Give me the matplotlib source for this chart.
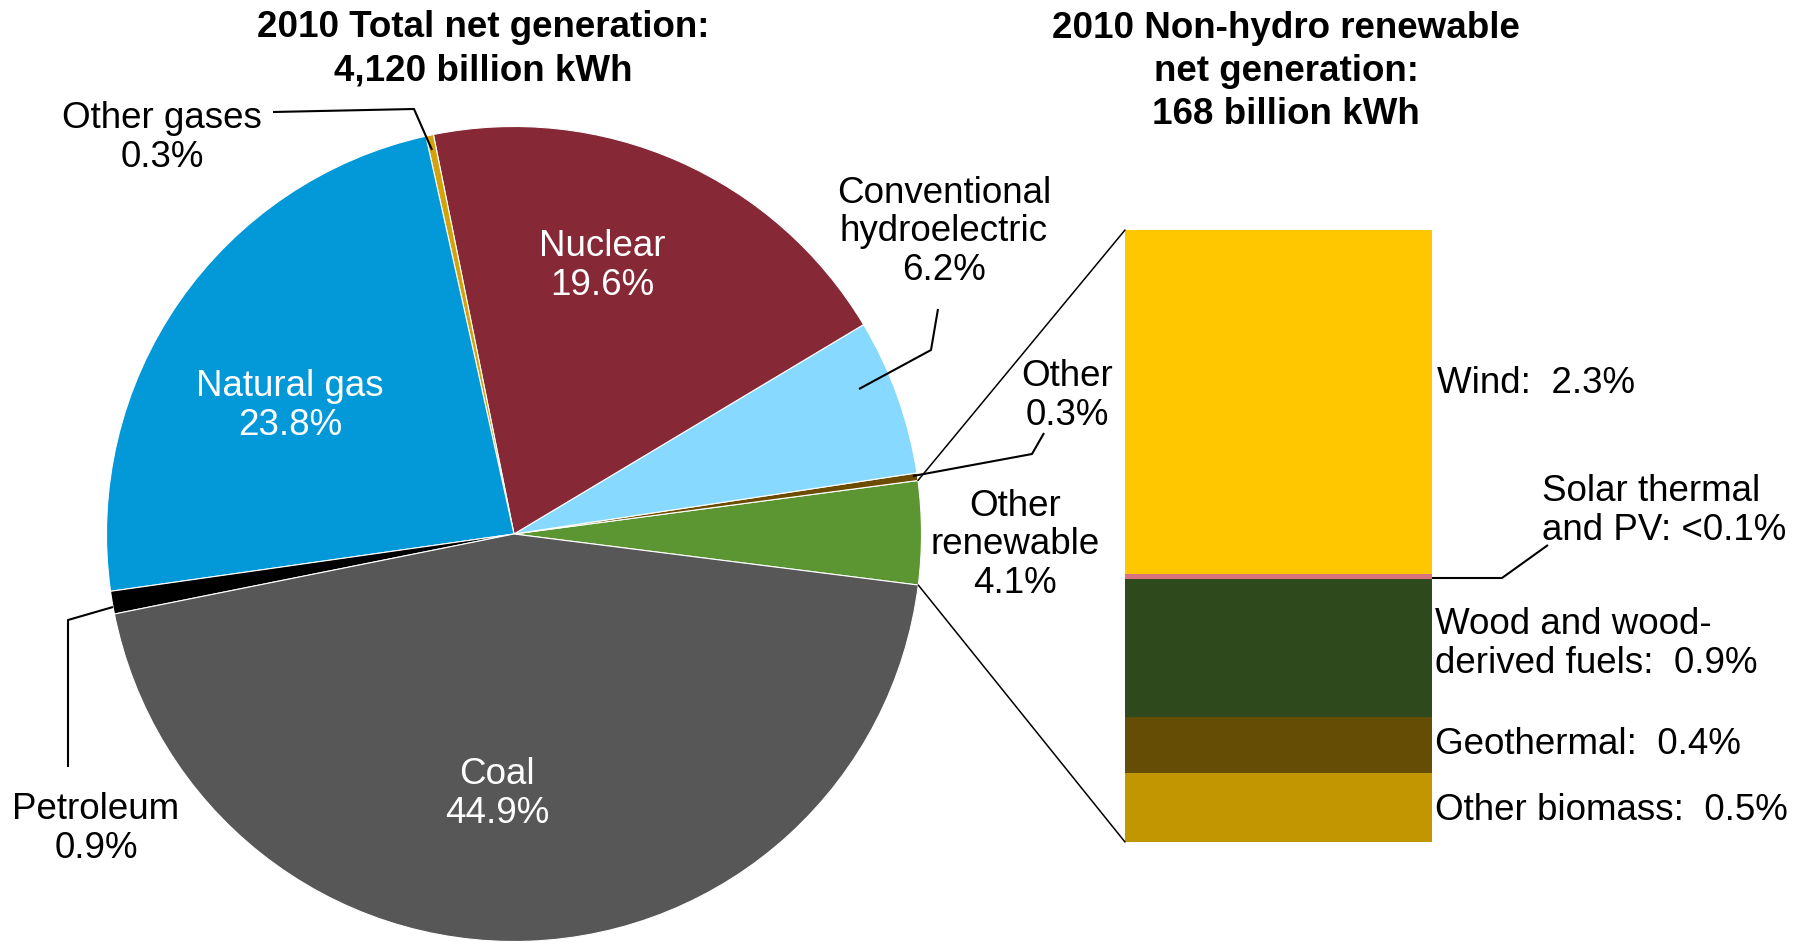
import matplotlib.pyplot as plt
from matplotlib.patches import ConnectionPatch
import numpy as np

plt.rcParams['font.family'] = ['Liberation Sans', 'DejaVu Sans']

# Total net generation 2010, percent (pie, counter-clockwise from the right)
pie_labels = ['Other renewable', 'Other', 'Conventional hydroelectric', 'Nuclear',
              'Other gases', 'Natural gas', 'Petroleum', 'Coal']
pie_shares = [4.1, 0.3, 6.2, 19.6, 0.3, 23.8, 0.9, 44.9]
pie_colors = ['#5B9632', '#6B4C00', '#87D9FF', '#862835',
              '#D4A20A', '#0398D8', '#000000', '#575757']

# Non-hydro renewable breakdown, percent of total (top to bottom)
bar_labels = ['Wind', 'Solar thermal and PV', 'Wood and wood-derived fuels',
              'Geothermal', 'Other biomass']
bar_shares = [2.3, 0.033, 0.925, 0.375, 0.462]
bar_colors = ['#FFC700', '#D9737F', '#2E4A1C', '#664D06', '#C29600']

W, H = 1805, 944
fig = plt.figure(figsize=(W / 100, H / 100), dpi=100)
ax = fig.add_axes([0, 0, 1, 1])

cx, cy, r = 514, H - 534, 407.5
wedges, _ = ax.pie(pie_shares, colors=pie_colors, startangle=-7.2,
                   center=(cx, cy), radius=r,
                   wedgeprops=dict(linewidth=0.8, edgecolor='white'))
ax.set_xlim(0, W)
ax.set_ylim(0, H)
ax.set_aspect('auto')
ax.axis('off')

fs = 26.5


# y is the baseline of the LAST line, in picture pixels from the top
def txt(x, y, s, **kw):
    kw.setdefault('ha', 'center')
    kw.setdefault('va', 'baseline')
    kw.setdefault('fontsize', fs)
    kw.setdefault('linespacing', 1.13)
    ax.text(x, H - y, s, **kw)


def leader(pts):
    xs = [p[0] for p in pts]
    ys = [H - p[1] for p in pts]
    ax.plot(xs, ys, color='black', lw=1.5, solid_capstyle='butt')


# titles
txt(483, 80, '2010 Total net generation:\n4,120 billion kWh', fontweight='bold', linespacing=1.3)
txt(1286, 124, '2010 Non-hydro renewable\nnet generation:\n168 billion kWh', fontweight='bold', linespacing=1.3)

# labels inside the pie
txt(602, 295, 'Nuclear\n19.6%', color='white')
txt(290, 435, 'Natural gas\n23.8%', color='white')
txt(497, 823, 'Coal\n44.9%', color='white')

# labels outside the pie
txt(162, 167, 'Other gases\n0.3%')
leader([(273, 112), (414, 109), (432, 150)])
txt(944, 280, 'Conventional\nhydroelectric\n6.2%')
leader([(938, 309), (931, 350), (859, 389)])
txt(1067, 425, 'Other\n0.3%')
leader([(1044, 433), (1032, 454), (913, 476)])
txt(1015, 593, 'Other\nrenewable\n4.1%')
txt(96, 858, 'Petroleum\n0.9%')
leader([(113, 607), (68, 620), (68, 767)])

# stacked bar for non-hydro renewables
bax = fig.add_axes([1125 / W, (H - 842) / H, 307 / W, 612 / H])
total = sum(bar_shares)
bottom = 0
for val, col in zip(bar_shares[::-1], bar_colors[::-1]):
    bax.bar(0, val, width=1, bottom=bottom, color=col, linewidth=0)
    bottom += val
bax.set_xlim(-0.5, 0.5)
bax.set_ylim(0, total)
bax.axis('off')

txt(1437, 393, 'Wind:  2.3%', ha='left')
txt(1542, 540, 'Solar thermal\nand PV: <0.1%', ha='left')
leader([(1430, 578), (1502, 578), (1548, 545)])
txt(1435, 673, 'Wood and wood-\nderived fuels:  0.9%', ha='left')
txt(1435, 754, 'Geothermal:  0.4%', ha='left')
txt(1435, 820, 'Other biomass:  0.5%', ha='left')

# connecting lines from the "Other renewable" wedge to the bar
g = wedges[0]
for th, yb in [(g.theta2, total), (g.theta1, 0)]:
    p = (cx + r * np.cos(np.radians(th)), cy + r * np.sin(np.radians(th)))
    con = ConnectionPatch(xyA=p, coordsA=ax.transData, xyB=(-0.5, yb),
                          coordsB=bax.transData, color='black', lw=1.1)
    fig.add_artist(con)

fig.savefig('out.png', dpi=100)
